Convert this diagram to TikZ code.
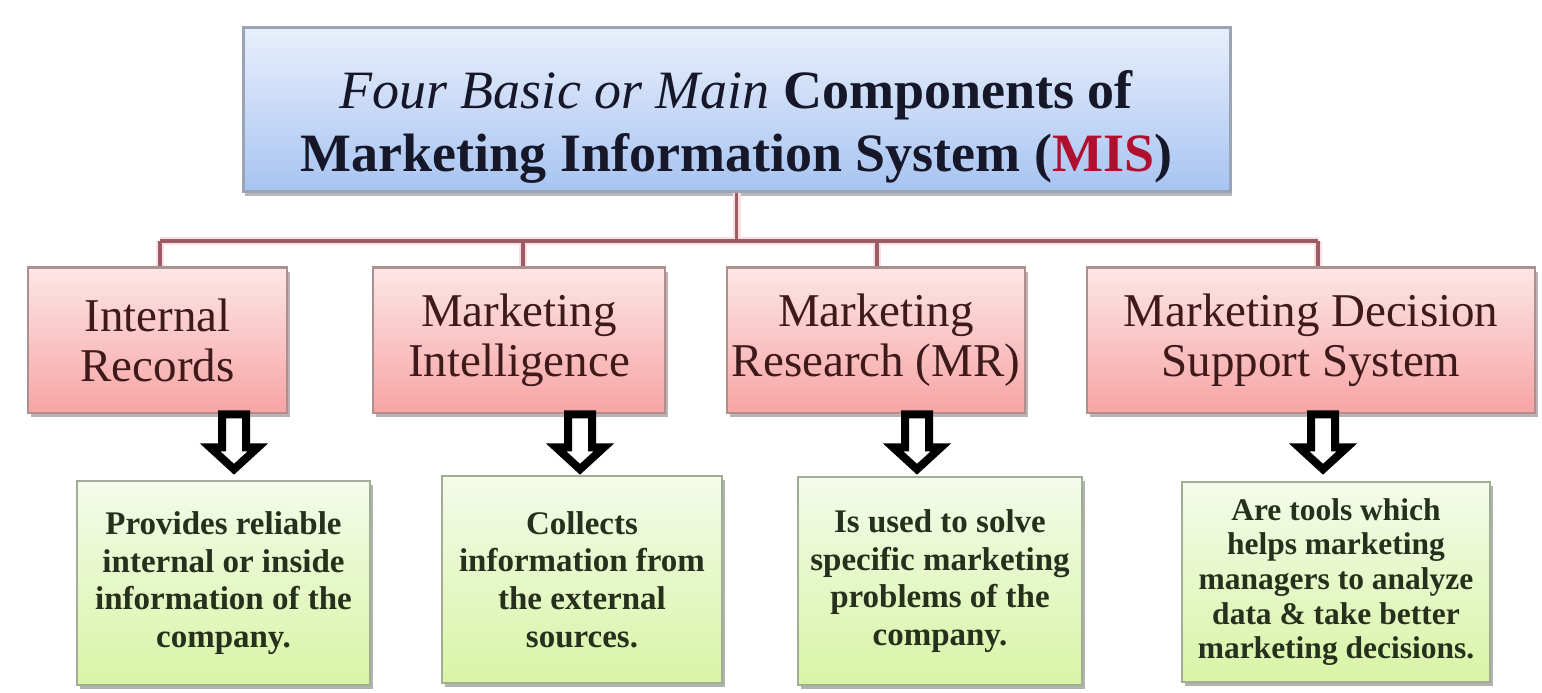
\documentclass[tikz,border=0pt]{standalone}
\usepackage{fontspec}
\setmainfont{Liberation Serif}
\usetikzlibrary{shadows,calc}
\definecolor{bluetop}{HTML}{E8EFFB}
\definecolor{bluebot}{HTML}{A8C4F2}
\definecolor{blueedge}{HTML}{9AA4B4}
\definecolor{redtop}{HTML}{FCE6E6}
\definecolor{redbot}{HTML}{F8A4A4}
\definecolor{rededge}{HTML}{AC9090}
\definecolor{greentop}{HTML}{F4FBEA}
\definecolor{greenbot}{HTML}{D8F4A6}
\definecolor{greenedge}{HTML}{A3AC95}
\definecolor{busline}{HTML}{9B5C64}
\definecolor{busglow}{HTML}{FAE0E2}
\definecolor{redtext}{HTML}{3E1A1A}
\definecolor{greentext}{HTML}{26301C}
\definecolor{titletext}{HTML}{16182A}
\definecolor{misred}{HTML}{B0102E}
\tikzset{
  titlebox/.style={rectangle, draw=blueedge, line width=3pt, top color=bluetop, bottom color=bluebot,
    minimum width=987pt, minimum height=163pt, inner sep=0pt,
    drop shadow={shadow xshift=2pt, shadow yshift=-5pt, fill=black!55, opacity=0.5}},
  compbox/.style={rectangle, draw=rededge, line width=2.5pt, top color=redtop, bottom color=redbot,
    minimum height=145pt, inner sep=0pt, align=center, text=redtext,
    font=\fontsize{47}{50}\selectfont,
    drop shadow={shadow xshift=3pt, shadow yshift=-4pt, fill=rededge!80!black, opacity=0.55}},
  descbox/.style={rectangle, draw=greenedge, line width=2.5pt, top color=greentop, bottom color=greenbot,
    inner sep=0pt, align=center, text=greentext,
    font=\bfseries\fontsize{33}{37.6}\selectfont,
    drop shadow={shadow xshift=3pt, shadow yshift=-4pt, fill=greenedge!70!black, opacity=0.55}},
  glow/.style={busglow, line width=8pt},
  bus/.style={busline, line width=3.5pt},
  hollowdown/.pic={
    \draw[line width=8pt, line join=miter, fill=white]
      (-12,0) -- (-12,33) -- (-24,33) -- (0,55) -- (24,33) -- (12,33) -- (12,0) -- cycle;
  }
}
\begin{document}
\begin{tikzpicture}[x=1pt,y=-1pt]
\useasboundingbox[fill=white] (0,0) rectangle (1542,693);

% junction points of the connector tree
\coordinate (d1) at (160,241);
\coordinate (d2) at (523,241);
\coordinate (d3) at (877,241);
\coordinate (d4) at (1318,241);

% title box
\node[titlebox] (top) at (736.5,109.5) {};
\node[text=titletext, align=center, font=\fontsize{54}{63}\selectfont] (title) at ([yshift=-17pt]top.center)
  {\textit{Four Basic or Main} \textbf{Components of}\\
   \textbf{Marketing Information System (\textcolor{misred}{MIS})}};

% component boxes
\node[compbox, minimum width=259pt] (r1) at (157.5,340.5) {Internal\\Records};
\node[compbox, minimum width=292pt] (r2) at (519,340.5) {Marketing\\Intelligence};
\node[compbox, minimum width=298pt] (r3) at (876,340.5) {Marketing\\Research (MR)};
\node[compbox, minimum width=448pt] (r4) at (1311,340.5) {Marketing Decision\\Support System};

% connector tree
\draw[glow] (top.south) -- (top.south |- d1);
\draw[glow] (d1) -- (d4);
\draw[glow] (d1) -- (d1 |- r1.north);
\draw[glow] (d2) -- (d2 |- r2.north);
\draw[glow] (d3) -- (d3 |- r3.north);
\draw[glow] (d4) -- (d4 |- r4.north);
\draw[bus] (top.south) -- (top.south |- d1);
\draw[bus] (d1) -- (d4);
\draw[bus] (d1) -- (d1 |- r1.north);
\draw[bus] (d2) -- (d2 |- r2.north);
\draw[bus] (d3) -- (d3 |- r3.north);
\draw[bus] (d4) -- (d4 |- r4.north);
% box top edges over the glow
\draw[draw=rededge, line width=2.5pt] (r1.north west) -- (r1.north east);
\draw[draw=rededge, line width=2.5pt] (r2.north west) -- (r2.north east);
\draw[draw=rededge, line width=2.5pt] (r3.north west) -- (r3.north east);
\draw[draw=rededge, line width=2.5pt] (r4.north west) -- (r4.north east);

% description boxes
\node[descbox, minimum width=293pt, minimum height=204pt] (g1) at (223.5,583)
  {Provides reliable\\internal or inside\\information of the\\company.};
\node[descbox, minimum width=280pt, minimum height=207pt] (g2) at (582,579.5)
  {Collects\\information from\\the external\\sources.};
\node[descbox, minimum width=284pt, minimum height=208pt] (g3) at (940,581)
  {Is used to solve\\specific marketing\\problems of the\\company.};
\node[descbox, minimum width=308pt, minimum height=200pt, font=\bfseries\fontsize{31.5}{34.6}\selectfont] (g4) at (1336,582)
  {Are tools which\\helps marketing\\managers to analyze\\data \& take better\\marketing decisions.};

% hollow arrows from component boxes down to description boxes
\pic at ([xshift=76.5pt]r1.south) {hollowdown};
\pic at ([xshift=61pt]r2.south) {hollowdown};
\pic at ([xshift=41pt]r3.south) {hollowdown};
\pic at ([xshift=12pt]r4.south) {hollowdown};
\end{tikzpicture}
\end{document}
